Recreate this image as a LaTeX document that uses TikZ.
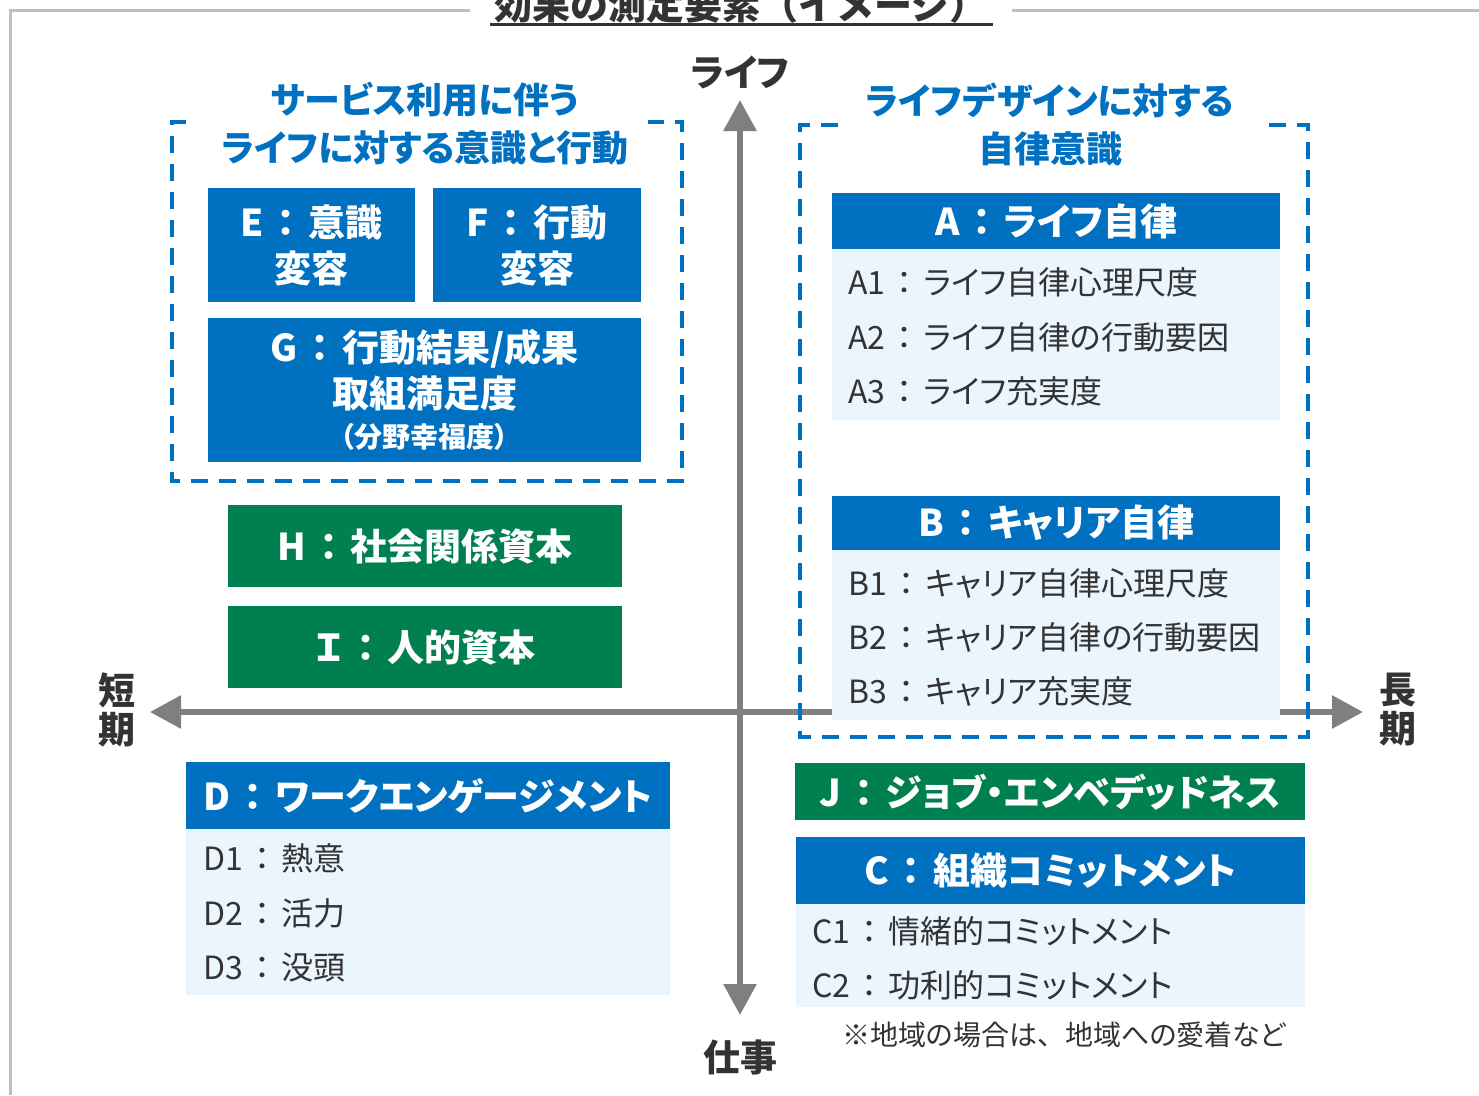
\documentclass[tikz,border=0pt]{standalone}
\usepackage{fontspec}
\setmainfont{Noto Sans CJK JP}[RawFeature=+palt]
\newfontfamily\jpfull{Noto Sans CJK JP}
\usetikzlibrary{arrows.meta}
\definecolor{blu}{HTML}{0070C0}
\definecolor{grn}{HTML}{007F50}
\definecolor{lb}{HTML}{EBF5FE}
\definecolor{dk}{HTML}{333333}
\definecolor{axc}{HTML}{7F7F7F}
\definecolor{frc}{HTML}{BFBFBF}
\newcommand\cc{\hspace{0.1em}{\jpfull ：}\hspace{0.1em}}
\newcommand\tc{{\jpfull 、}}
\begin{document}
\begin{tikzpicture}[x=1pt,y=-1pt,
  frameline/.style={draw=frc, line width=3pt},
  axisline/.style={draw=axc, line width=6pt, -{Triangle[length=31pt,width=32pt]}},
  grpbox/.style={draw=blu, line width=3.5pt, dash pattern=on 17pt off 11pt},
  grpttl/.style={text=blu, font=\bfseries\fontsize{36}{48}\selectfont, align=center, inner sep=0},
  axlbl/.style={text=dk, font=\bfseries\fontsize{37}{39}\selectfont, align=center, inner sep=0},
  bluebox/.style={fill=blu, text=white, font=\bfseries\fontsize{37}{46}\selectfont, align=center, inner sep=0, anchor=north west},
  grnbox/.style={fill=grn, text=white, font=\bfseries\fontsize{37}{46}\selectfont, align=center, inner sep=0, anchor=north west},
  bodybox/.style={fill=lb, inner sep=0, anchor=north west},
  item/.style={text=dk, font=\fontsize{32}{36}\selectfont, anchor=west, inner sep=0},
  note/.style={text=dk, font=\fontsize{28}{32}\selectfont, anchor=west, inner sep=0}
]
\useasboundingbox (0,0) rectangle (1479,1095);

% outer frame
\draw[frameline] (470,10) -- (10,10) -- (10,1095);
\draw[frameline] (1012,10) -- (1479,10);

% title
\node[text=dk, font=\jpfull\bfseries\fontsize{38}{40}\selectfont, anchor=base, inner sep=0] (title) at (741,19) {効果の測定要素（イメージ）};
\draw[dk, line width=3pt] (490,24) -- (993,24);

% axes
\coordinate (xl) at (150,712);
\coordinate (xr) at (1363,712);
\coordinate (yt) at (740,100);
\coordinate (yb) at (740,1015);
\coordinate (o) at (740,712);
\draw[axisline] (o) -- (xl);
\draw[axisline] (o) -- (xr);
\draw[axisline] (o) -- (yt);
\draw[axisline] (o) -- (yb);

\node[axlbl] (life) at (740,72) {ライフ};
\node[axlbl] (work) at (740,1057) {仕事};
\node[axlbl] (short) at (117,710) {短\\期};
\node[axlbl] (long) at (1398,710) {長\\期};

% left group
\draw[grpbox] (186,122) -- (172,122) -- (172,481) -- (682,481) -- (682,122) -- (648,122);
\node[grpttl] (Lt) at (425,124) {サービス利用に伴う\\ライフに対する意識と行動};
\node[bluebox, minimum width=207, minimum height=114] (E) at (208,188) {E\cc 意識\\変容};
\node[bluebox, minimum width=208, minimum height=114] (F) at (433,188) {F\cc 行動\\変容};
\node[bluebox, minimum width=433, minimum height=144] (G) at (208,318) {G\cc 行動結果/成果\\取組満足度\\[-6pt]{\fontsize{28}{34}\selectfont （分野幸福度）}};

\node[grnbox, minimum width=394, minimum height=82] (H) at (228,505) {H\cc 社会関係資本};
\node[grnbox, minimum width=394, minimum height=82] (I) at (228,606) {Ｉ\cc 人的資本};

% right group
\draw[grpbox] (838,125) -- (800,125) -- (800,737) -- (1308,737) -- (1308,125) -- (1262,125);
\node[grpttl] (Rt) at (1050,124) {ライフデザインに対する\\自律意識};

\node[bodybox, minimum width=448, minimum height=171] (Ab) at (832,249) {};
\node[bluebox, minimum width=448, minimum height=56] (Ah) at (832,193) {A\cc ライフ自律};
\node[item] (A1) at (848,282) {A1\cc ライフ自律心理尺度};
\node[item] (A2) at (848,337) {A2\cc ライフ自律の行動要因};
\node[item] (A3) at (848,391) {A3\cc ライフ充実度};

\node[bodybox, minimum width=448, minimum height=170] (Bb) at (832,550) {};
\node[bluebox, minimum width=448, minimum height=54] (Bh) at (832,496) {B\cc キャリア自律};
\node[item] (B1) at (848,583) {B1\cc キャリア自律心理尺度};
\node[item] (B2) at (848,637) {B2\cc キャリア自律の行動要因};
\node[item] (B3) at (848,691) {B3\cc キャリア充実度};

% D
\node[bodybox, minimum width=484, minimum height=166] (Db) at (186,829) {};
\node[bluebox, minimum width=484, minimum height=67] (Dh) at (186,762) {D\cc ワークエンゲージメント};
\node[item] (D1) at (203,858) {D1\cc 熱意};
\node[item] (D2) at (203,913) {D2\cc 活力};
\node[item] (D3) at (203,967) {D3\cc 没頭};

% J and C
\node[grnbox, minimum width=510, minimum height=57] (J) at (795,763) {J\cc ジョブ・エンベデッドネス};
\node[bodybox, minimum width=509, minimum height=103] (Cb) at (796,904) {};
\node[bluebox, minimum width=509, minimum height=67] (Ch) at (796,837) {C\cc 組織コミットメント};
\node[item] (C1) at (812,931) {C1\cc 情緒的コミットメント};
\node[item] (C2) at (812,985) {C2\cc 功利的コミットメント};
\node[note] (nt) at (842,1035) {※地域の場合は\tc 地域への愛着など};
\end{tikzpicture}
\end{document}
